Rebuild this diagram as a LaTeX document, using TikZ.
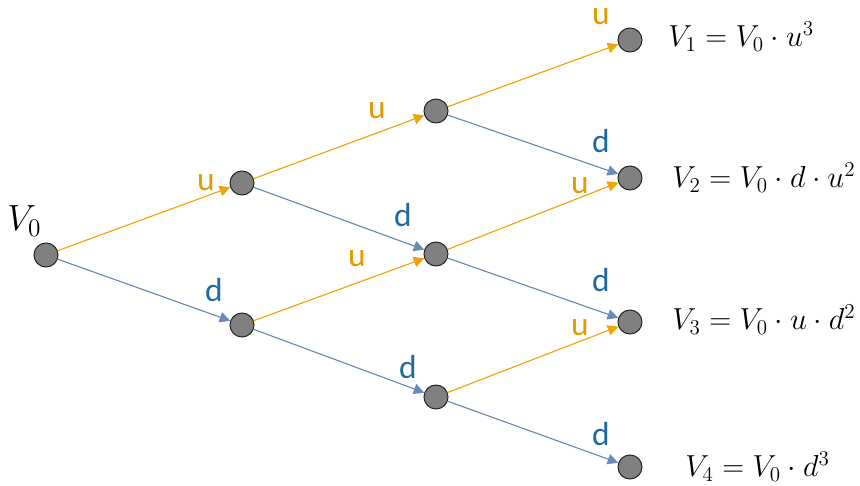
\documentclass[tikz,border=0pt]{standalone}
\usepackage{fontspec}
\usepackage{tikz}
\usetikzlibrary{arrows.meta}
\newfontfamily\lblfont{Carlito}
\definecolor{TRUp}{HTML}{F0A30A}
\definecolor{TRUpText}{HTML}{E29B00}
\definecolor{TRDown}{HTML}{6A8BB5}
\definecolor{TRDownText}{HTML}{1F6A9C}
\definecolor{TRNode}{HTML}{808080}
\begin{document}
\begin{tikzpicture}[x=0.02cm,y=-0.02cm,
  state/.style={circle,draw=black!85,line width=0.6pt,fill=TRNode,minimum size=0.48cm,inner sep=0pt},
  upline/.style={TRUp,line width=0.65pt,-{Triangle[length=6pt,width=6pt]}},
  downline/.style={TRDown,line width=0.65pt,-{Triangle[length=6pt,width=6pt]}},
  uplbl/.style={TRUpText,font=\lblfont\fontsize{19}{20}\selectfont,inner sep=0pt},
  downlbl/.style={TRDownText,font=\lblfont\fontsize{19}{20}\selectfont,inner sep=0pt},
  eq/.style={anchor=base west,inner sep=0pt,font=\fontsize{17.5}{20}\selectfont}]
\path[use as bounding box] (0,0) rectangle (860,486);
% states
\node[state] (s0) at (46,255) {};
\node[state] (a1) at (242,183) {};
\node[state] (a2) at (242,325) {};
\node[state] (b1) at (436,111) {};
\node[state] (b2) at (436,254) {};
\node[state] (b3) at (436,397) {};
\node[state] (c1) at (630,40) {};
\node[state] (c2) at (630,178) {};
\node[state] (c3) at (630,322) {};
\node[state] (c4) at (630,467) {};
% branches
\draw[upline] (s0) -- (a1);
\draw[downline] (s0) -- (a2);
\draw[upline] (a1) -- (b1);
\draw[downline] (a1) -- (b2);
\draw[upline] (a2) -- (b2);
\draw[downline] (a2) -- (b3);
\draw[upline] (b1) -- (c1);
\draw[downline] (b1) -- (c2);
\draw[upline] (b2) -- (c2);
\draw[downline] (b2) -- (c3);
\draw[upline] (b3) -- (c3);
\draw[downline] (b3) -- (c4);
% branch labels
\node[uplbl] (u01) at (206,183) {u};
\node[downlbl] (d02) at (214,290) {d};
\node[uplbl] (u11) at (377,111) {u};
\node[downlbl] (d12) at (403,215) {d};
\node[uplbl] (u22) at (357,259) {u};
\node[downlbl] (d23) at (408,367) {d};
\node[uplbl] (u31) at (601,17) {u};
\node[downlbl] (d32) at (601,141) {d};
\node[uplbl] (u42) at (580,186) {u};
\node[downlbl] (d43) at (601,280) {d};
\node[uplbl] (u53) at (580,328) {u};
\node[downlbl] (d54) at (601,434) {d};
% values
\node[eq,font=\fontsize{21}{24}\selectfont] (v0) at (7,231) {$V_0$};
\node[eq] (v1) at (668,47) {$V_1 = V_0\cdot u^3$};
\node[eq] (v2) at (672,188) {$V_2 = V_0\cdot d\cdot u^2$};
\node[eq] (v3) at (672,330) {$V_3 = V_0\cdot u\cdot d^2$};
\node[eq] (v4) at (685,477) {$V_4 = V_0\cdot d^3$};
\end{tikzpicture}
\end{document}
